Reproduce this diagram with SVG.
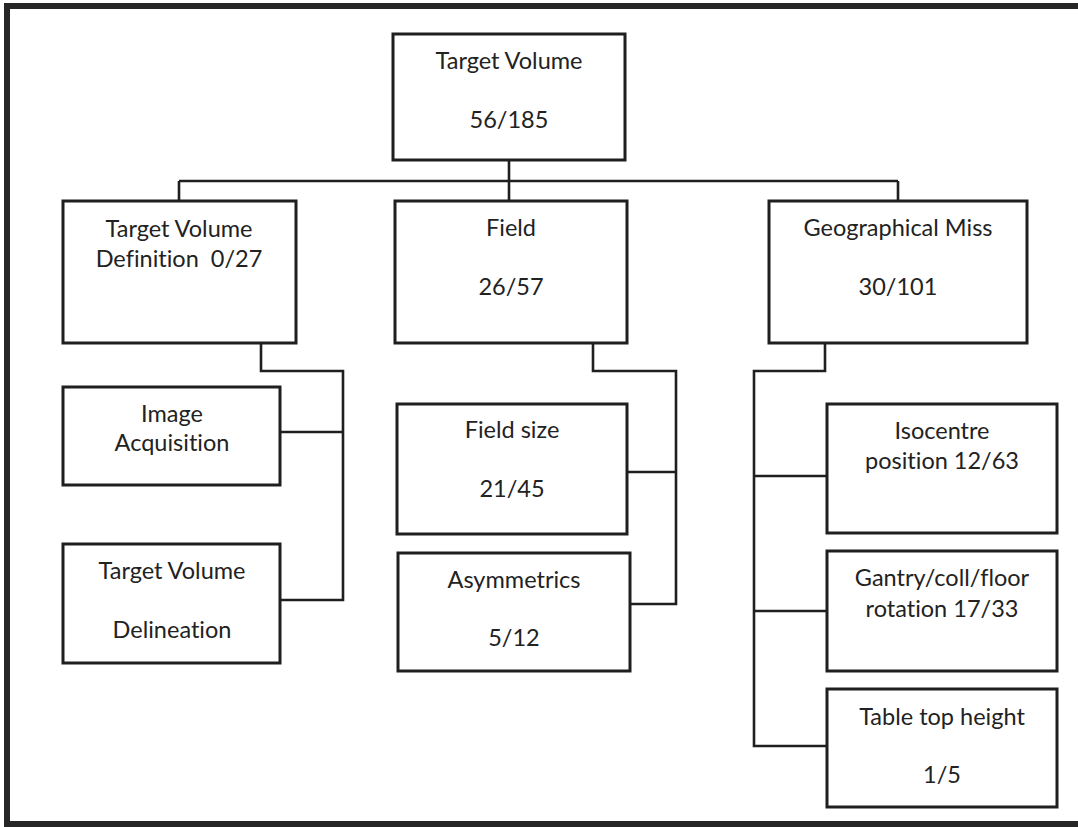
<svg xmlns="http://www.w3.org/2000/svg" width="1078" height="827" viewBox="0 0 1078 827">
  <style>
    .box { fill: #ffffff; stroke: #1f1f1f; stroke-width: 3; }
    .wire { fill: none; stroke: #1f1f1f; stroke-width: 2.6; stroke-linejoin: miter; }
    .frame { fill: none; stroke: #262626; stroke-width: 6; }
    text { font-family: Lato, "Open Sans", "Liberation Sans", sans-serif; font-size: 23.5px; fill: #222222; text-anchor: middle; font-variant-ligatures: none; }
  </style>

  <rect x="0" y="0" width="1078" height="827" fill="#ffffff"/>

  <!-- page frame: top, left and bottom edges -->
  <path class="frame" d="M1078,6 H7 V824 H1078"/>

  <!-- tree connectors -->
  <g id="connectors">
    <path class="wire" d="M509,160 V200"/>
    <path class="wire" d="M179,181 H898"/>
    <path class="wire" d="M179,181 V201"/>
    <path class="wire" d="M898,181 V201"/>
    <!-- definition branch -->
    <path class="wire" d="M261,343 V371 H343 V600 H280"/>
    <path class="wire" d="M280,432 H343"/>
    <!-- field branch -->
    <path class="wire" d="M593,343 V371 H676 V604 H630"/>
    <path class="wire" d="M627,472 H676"/>
    <!-- geographical miss branch -->
    <path class="wire" d="M825,343 V371 H754 V746 H827"/>
    <path class="wire" d="M754,476 H827"/>
    <path class="wire" d="M754,611 H827"/>
  </g>

  <g id="target-volume">
    <rect class="box" x="393" y="34" width="232" height="126"/>
    <text x="509" y="69">Target Volume</text>
    <text x="509" y="128">56/185</text>
  </g>

  <g id="target-volume-definition">
    <rect class="box" x="63" y="201" width="233" height="142"/>
    <text x="179" y="237">Target Volume</text>
    <text x="179" y="267" xml:space="preserve">Definition  0/27</text>
  </g>

  <g id="field">
    <rect class="box" x="395" y="201" width="232" height="142"/>
    <text x="511" y="236">Field</text>
    <text x="511" y="295">26/57</text>
  </g>

  <g id="geographical-miss">
    <rect class="box" x="769" y="201" width="258" height="142"/>
    <text x="898" y="236">Geographical Miss</text>
    <text x="898" y="295">30/101</text>
  </g>

  <g id="image-acquisition">
    <rect class="box" x="63" y="387" width="217" height="98"/>
    <text x="172" y="422">Image</text>
    <text x="172" y="451">Acquisition</text>
  </g>

  <g id="target-volume-delineation">
    <rect class="box" x="63" y="544" width="217" height="119"/>
    <text x="172" y="579">Target Volume</text>
    <text x="172" y="638">Delineation</text>
  </g>

  <g id="field-size">
    <rect class="box" x="397" y="404" width="230" height="130"/>
    <text x="512" y="438">Field size</text>
    <text x="512" y="497">21/45</text>
  </g>

  <g id="asymmetrics">
    <rect class="box" x="398" y="553" width="232" height="118"/>
    <text x="514" y="588">Asymmetrics</text>
    <text x="514" y="646">5/12</text>
  </g>

  <g id="isocentre-position">
    <rect class="box" x="827" y="404" width="230" height="129"/>
    <text x="942" y="439">Isocentre</text>
    <text x="942" y="469">position 12/63</text>
  </g>

  <g id="gantry-rotation">
    <rect class="box" x="827" y="551" width="230" height="120"/>
    <text x="942" y="586">Gantry/coll/floor</text>
    <text x="942" y="617">rotation 17/33</text>
  </g>

  <g id="table-top-height">
    <rect class="box" x="827" y="689" width="230" height="118"/>
    <text x="942" y="725">Table top height</text>
    <text x="942" y="783">1/5</text>
  </g>
</svg>
